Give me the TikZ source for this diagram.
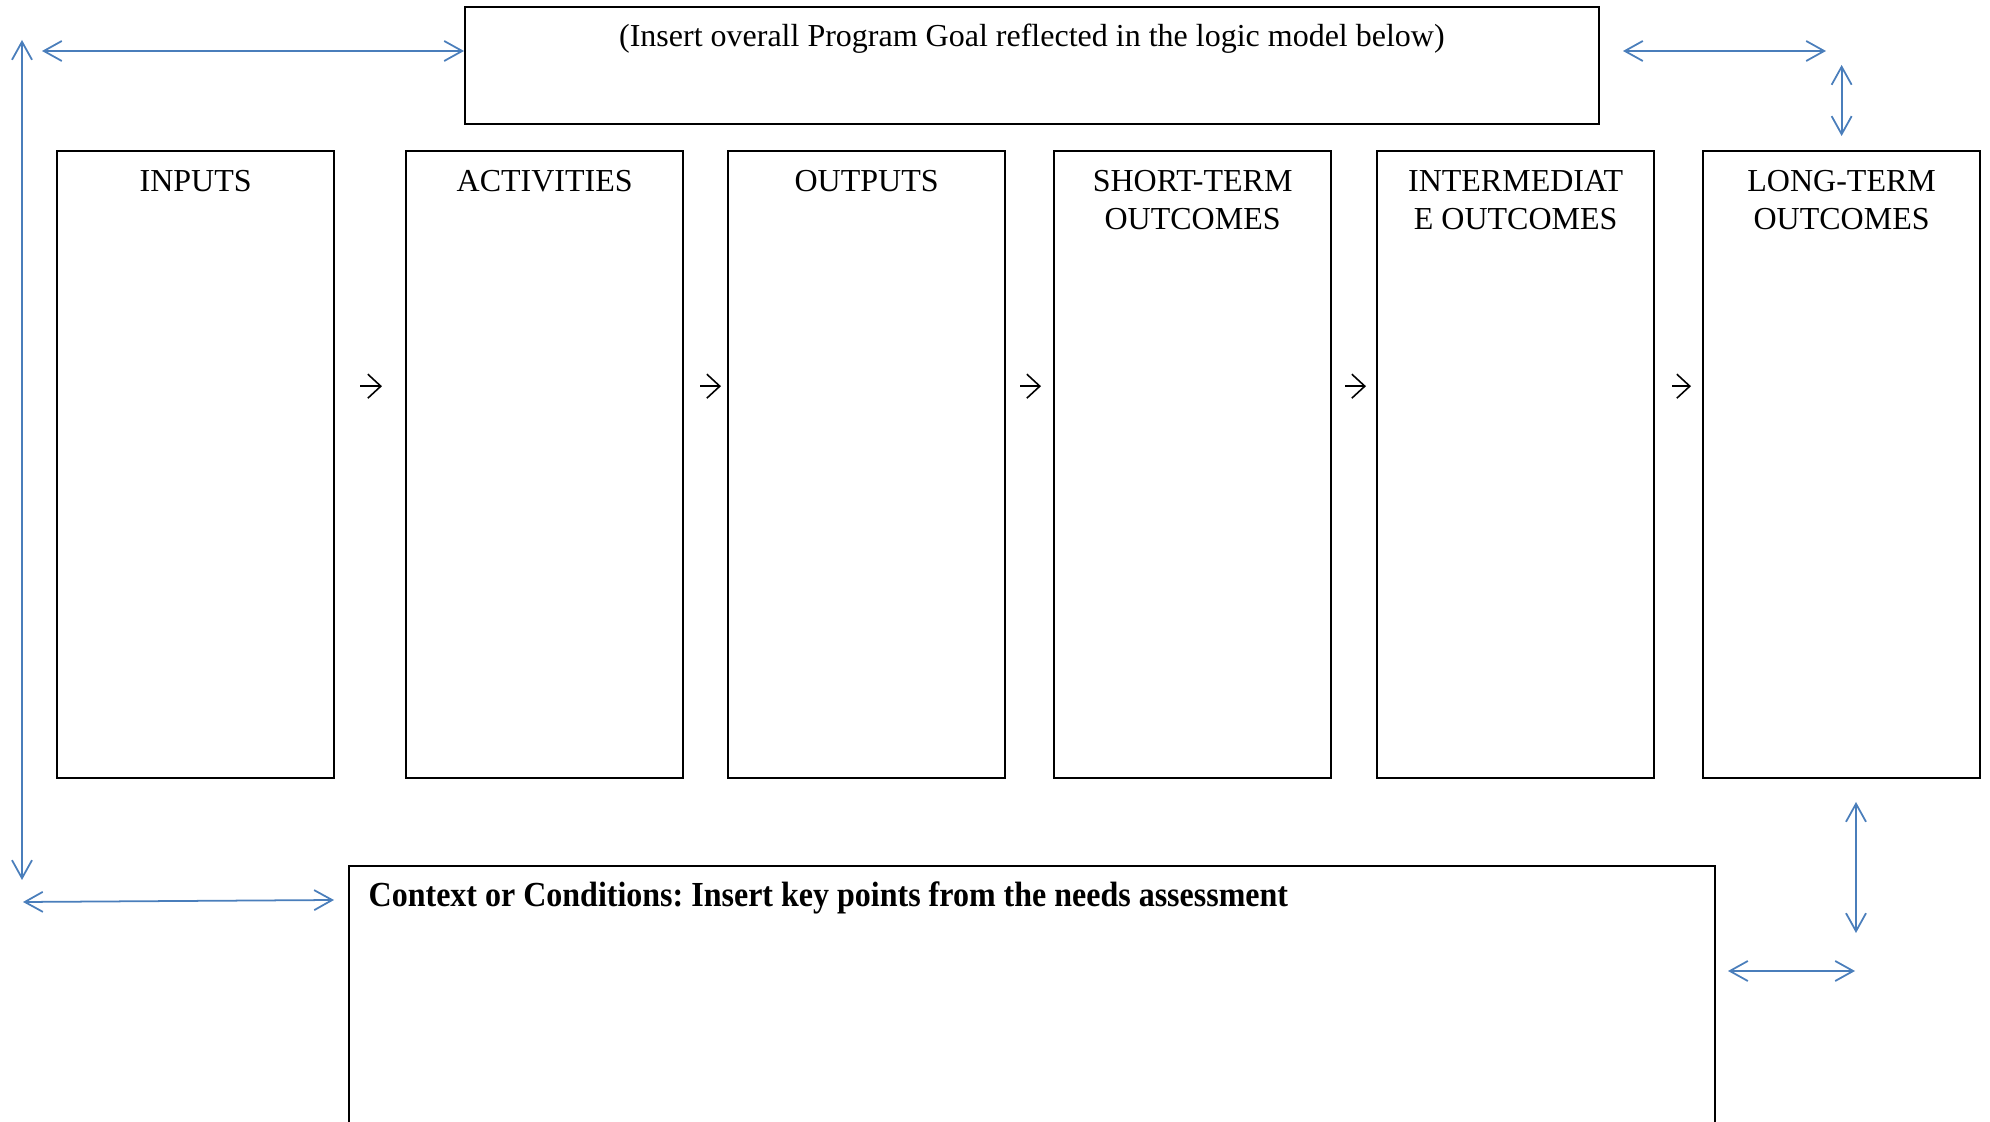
\documentclass[tikz,border=0pt]{standalone}
\usepackage{fontspec}
\setmainfont{Liberation Serif}
\newfontfamily\narrowserif[FakeStretch=0.91]{Liberation Serif}
\usetikzlibrary{arrows.meta,positioning}
\definecolor{linkblue}{HTML}{4A7EBB}
\tikzset{
  frame/.style={draw, line width=0.6pt, anchor=north west, inner sep=0pt},
  stage/.style={frame, minimum width=2.77cm, minimum height=6.27cm},
  head/.style={anchor=north, inner sep=0pt, align=center},
  flow/.style={-{Straight Barb[length=1.3mm,width=2.4mm]}, line width=0.45pt},
  link/.style={{Straight Barb[length=1.8mm,width=2mm]}-{Straight Barb[length=1.8mm,width=2mm]},
    linkblue, line width=0.5pt},
}

\begin{document}
\frenchspacing
\begin{tikzpicture}[x=0.01cm, y=-0.01cm, font=\fontsize{9.1}{10.8}\selectfont]
\clip (0,0) rectangle (1990,1122);
% goal
\node[frame, minimum width=11.33cm, minimum height=1.17cm] (goal) at (464,6) {};
\node[anchor=base, inner sep=0pt] (goal-h) at ([yshift=-0.40cm]goal.north)
  {(Insert overall Program Goal reflected in the logic model below)};
% stages
\node[stage] (inputs) at (56,150) {};
\node[stage] (activities) at (405,150) {};
\node[stage] (outputs) at (727,150) {};
\node[stage] (short) at (1053,150) {};
\node[stage] (inter) at (1376,150) {};
\node[stage] (long) at (1702,150) {};
\node[head] (inputs-h) at ([yshift=-0.20cm]inputs.north) {INPUTS};
\node[head] (activities-h) at ([yshift=-0.20cm]activities.north) {ACTIVITIES};
\node[head] (outputs-h) at ([yshift=-0.20cm]outputs.north) {OUTPUTS};
\node[head] (short-h) at ([yshift=-0.20cm]short.north) {SHORT-TERM\\OUTCOMES};
\node[head] (inter-h) at ([yshift=-0.20cm]inter.north) {INTERMEDIAT\\E OUTCOMES};
\node[head] (long-h) at ([yshift=-0.20cm]long.north) {LONG-TERM\\OUTCOMES};
\draw[flow] ([xshift=0.25cm,yshift=0.785cm]inputs.east) -- ([xshift=-0.23cm,yshift=0.785cm]activities.west);
\draw[flow] ([xshift=0.16cm,yshift=0.785cm]activities.east) -- ([xshift=-0.06cm,yshift=0.785cm]outputs.west);
\draw[flow] ([xshift=0.14cm,yshift=0.785cm]outputs.east) -- ([xshift=-0.12cm,yshift=0.785cm]short.west);
\draw[flow] ([xshift=0.13cm,yshift=0.785cm]short.east) -- ([xshift=-0.10cm,yshift=0.785cm]inter.west);
\draw[flow] ([xshift=0.17cm,yshift=0.785cm]inter.east) -- ([xshift=-0.11cm,yshift=0.785cm]long.west);
% context
\node[frame, minimum width=13.65cm, minimum height=4cm] (context) at (348,865) {};
\node[anchor=base west, inner sep=0pt, font=\narrowserif\bfseries] (context-h) at ([xshift=0.20cm,yshift=-0.41cm]context.north west)
  {Context or Conditions: Insert key points from the needs assessment};
% feedback arrows
\coordinate (top-left) at (42,51);
\coordinate (top-right-a) at (1623,51);
\coordinate (top-right-b) at (1826,51);
\coordinate (left-top) at (22,40);
\coordinate (left-bot) at (22,880);
\coordinate (bot-left-a) at (23,902);
\coordinate (bot-left-b) at (334,900);
\coordinate (right-top) at (1856,802);
\coordinate (right-bot) at (1856,933);
\coordinate (bot-right-a) at (1728,971);
\coordinate (bot-right-b) at (1855,971);
\draw[link] (top-left) -- (top-left -| goal.west);
\draw[link] (top-right-a) -- (top-right-b);
\draw[link] ([yshift=0.85cm]long.north) -- ([yshift=0.14cm]long.north);
\draw[link] (left-top) -- (left-bot);
\draw[link] (bot-left-a) -- (bot-left-b);
\draw[link] (right-top) -- (right-bot);
\draw[link] (bot-right-a) -- (bot-right-b);
\end{tikzpicture}
\end{document}
